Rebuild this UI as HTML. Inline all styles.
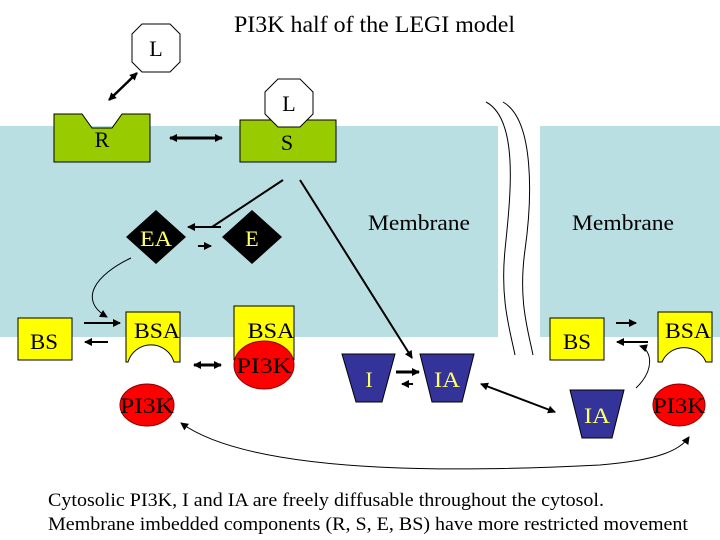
<!DOCTYPE html>
<html><head><style>
body{margin:0;width:720px;height:540px;background:#fff;overflow:hidden}
svg{display:block}
text{font-family:"Liberation Serif",serif}
</style></head><body>
<svg width="720" height="540" viewBox="0 0 720 540">
<defs>
<marker id="a" markerWidth="8" markerHeight="8" refX="7" refY="4" orient="auto" markerUnits="userSpaceOnUse"><path d="M0,0 L8,4 L0,8 z" fill="#000"/></marker>
<marker id="b" markerWidth="8" markerHeight="8" refX="1" refY="4" orient="auto" markerUnits="userSpaceOnUse"><path d="M8,0 L0,4 L8,8 z" fill="#000"/></marker>
</defs>
<rect x="0" y="126" width="498" height="211" fill="#b9dfe3"/>
<rect x="540" y="126" width="180" height="211" fill="#b9dfe3"/>
<text x="234" y="32" font-size="23" textLength="281" lengthAdjust="spacingAndGlyphs">PI3K half of the LEGI model</text>
<path d="M486,102 C520,120 510,200 505,250 C500,300 510,330 515,355" fill="none" stroke="#000" stroke-width="1"/>
<path d="M503,102 C535,120 532,200 525,250 C518,300 528,330 533,355" fill="none" stroke="#000" stroke-width="1"/>
<polygon points="142,24 170,24 180,34 180,62 170,72 142,72 132,62 132,34" fill="#fff" stroke="#000"/>
<text x="156" y="56" font-size="22" text-anchor="middle">L</text>
<line x1="109" y1="100" x2="137" y2="73" stroke="#000" stroke-width="2.5" marker-start="url(#b)" marker-end="url(#a)"/>
<path d="M54,114 L82,114 L92,128 L112,128 L122,114 L150,114 L150,162 L54,162 z" fill="#99cc00" stroke="#000"/>
<text x="102" y="147" font-size="22" text-anchor="middle">R</text>
<line x1="170" y1="138" x2="222" y2="138" stroke="#000" stroke-width="3" marker-start="url(#b)" marker-end="url(#a)"/>
<rect x="240" y="120" width="96" height="42" fill="#99cc00" stroke="#000"/>
<polygon points="278,79 300,79 313,92 313,114 300,127 278,127 265,114 265,92" fill="#fff" stroke="#000"/>
<text x="289" y="111" font-size="22" text-anchor="middle">L</text>
<text x="287" y="150" font-size="22" text-anchor="middle">S</text>
<polygon points="156,210 186,237 156,264 126,237" fill="#000"/>
<text x="156" y="246" font-size="22" fill="#ffff66" text-anchor="middle" textLength="32" lengthAdjust="spacingAndGlyphs">EA</text>
<polygon points="252,210 282,237 252,264 222,237" fill="#000"/>
<text x="252" y="246" font-size="22" fill="#ffff66" text-anchor="middle">E</text>
<line x1="283" y1="180" x2="212" y2="227" stroke="#000" stroke-width="2"/>
<line x1="221" y1="227" x2="188" y2="227" stroke="#000" stroke-width="2" marker-end="url(#a)"/>
<line x1="198" y1="246" x2="211" y2="246" stroke="#000" stroke-width="2" marker-end="url(#a)"/>
<line x1="300" y1="180" x2="412" y2="358" stroke="#000" stroke-width="2" marker-end="url(#a)"/>
<path d="M131,258 C95,275 78,300 107,317" fill="none" stroke="#000" stroke-width="1" marker-end="url(#a)"/>
<rect x="18" y="318" width="54" height="42" fill="#ffff00" stroke="#000"/>
<text x="44" y="349" font-size="22" text-anchor="middle" textLength="28" lengthAdjust="spacingAndGlyphs">BS</text>
<line x1="84" y1="323" x2="120" y2="323" stroke="#000" stroke-width="2" marker-end="url(#a)"/>
<line x1="108" y1="342" x2="85" y2="342" stroke="#000" stroke-width="2" marker-end="url(#a)"/>
<path d="M126,312 L180,312 L180,362 L174,362 A24,24 0 0 0 128,362 L126,362 z" fill="#ffff00" stroke="#000"/>
<text x="157" y="338" font-size="22" text-anchor="middle" textLength="46" lengthAdjust="spacingAndGlyphs">BSA</text>
<line x1="194" y1="365" x2="221" y2="365" stroke="#000" stroke-width="3" marker-start="url(#b)" marker-end="url(#a)"/>
<rect x="234" y="306" width="60" height="54" fill="#ffff00" stroke="#000"/>
<text x="271" y="338" font-size="22" text-anchor="middle" textLength="47" lengthAdjust="spacingAndGlyphs">BSA</text>
<ellipse cx="264" cy="365" rx="30" ry="24" fill="#ff0000" stroke="#800"/>
<text x="264" y="373" font-size="22" text-anchor="middle" textLength="55" lengthAdjust="spacingAndGlyphs">PI3K</text>
<ellipse cx="147" cy="405" rx="27" ry="21" fill="#ff0000" stroke="#800"/>
<text x="147" y="413" font-size="22" text-anchor="middle" textLength="54" lengthAdjust="spacingAndGlyphs">PI3K</text>
<polygon points="342,354 395,354 382,402 356,402" fill="#333399" stroke="#000"/>
<text x="369" y="387" font-size="22" fill="#ffff66" text-anchor="middle">I</text>
<polygon points="420,354 474,354 462,402 432,402" fill="#333399" stroke="#000"/>
<text x="447" y="387" font-size="22" fill="#ffff66" text-anchor="middle" textLength="26" lengthAdjust="spacingAndGlyphs">IA</text>
<line x1="396" y1="372" x2="419" y2="372" stroke="#000" stroke-width="3" marker-end="url(#a)"/>
<line x1="413" y1="384" x2="402" y2="384" stroke="#000" stroke-width="2" marker-end="url(#a)"/>
<line x1="481" y1="384" x2="555" y2="412" stroke="#000" stroke-width="2" marker-start="url(#b)" marker-end="url(#a)"/>
<polygon points="570,390 624,390 612,438 582,438" fill="#333399" stroke="#000"/>
<text x="597" y="423" font-size="22" fill="#ffff66" text-anchor="middle" textLength="26" lengthAdjust="spacingAndGlyphs">IA</text>
<text x="419" y="230" font-size="22" text-anchor="middle" textLength="102" lengthAdjust="spacingAndGlyphs">Membrane</text>
<text x="623" y="230" font-size="22" text-anchor="middle" textLength="102" lengthAdjust="spacingAndGlyphs">Membrane</text>
<rect x="550" y="318" width="54" height="42" fill="#ffff00" stroke="#000"/>
<text x="577" y="349" font-size="22" text-anchor="middle" textLength="28" lengthAdjust="spacingAndGlyphs">BS</text>
<line x1="616" y1="323" x2="636" y2="323" stroke="#000" stroke-width="2" marker-end="url(#a)"/>
<line x1="648" y1="342" x2="617" y2="342" stroke="#000" stroke-width="2" marker-end="url(#a)"/>
<path d="M658,312 L712,312 L712,362 L706,362 A24,24 0 0 0 662,362 L658,362 z" fill="#ffff00" stroke="#000"/>
<text x="688" y="338" font-size="22" text-anchor="middle" textLength="46" lengthAdjust="spacingAndGlyphs">BSA</text>
<path d="M636,388 C655,370 652,350 640,346" fill="none" stroke="#000" stroke-width="1" marker-end="url(#a)"/>
<ellipse cx="679" cy="405" rx="26" ry="21" fill="#ff0000" stroke="#800"/>
<text x="679" y="413" font-size="22" text-anchor="middle" textLength="52" lengthAdjust="spacingAndGlyphs">PI3K</text>
<path d="M181,423 C260,480 500,470 600,465 C660,460 680,450 689,437" fill="none" stroke="#000" stroke-width="1" marker-start="url(#b)" marker-end="url(#a)"/>
<text x="48" y="506" font-size="19" textLength="556" lengthAdjust="spacingAndGlyphs">Cytosolic PI3K, I and IA are freely diffusable throughout the cytosol.</text>
<text x="48" y="530" font-size="19" textLength="640" lengthAdjust="spacingAndGlyphs">Membrane imbedded components (R, S, E, BS) have more restricted movement</text>
</svg>
</body></html>
